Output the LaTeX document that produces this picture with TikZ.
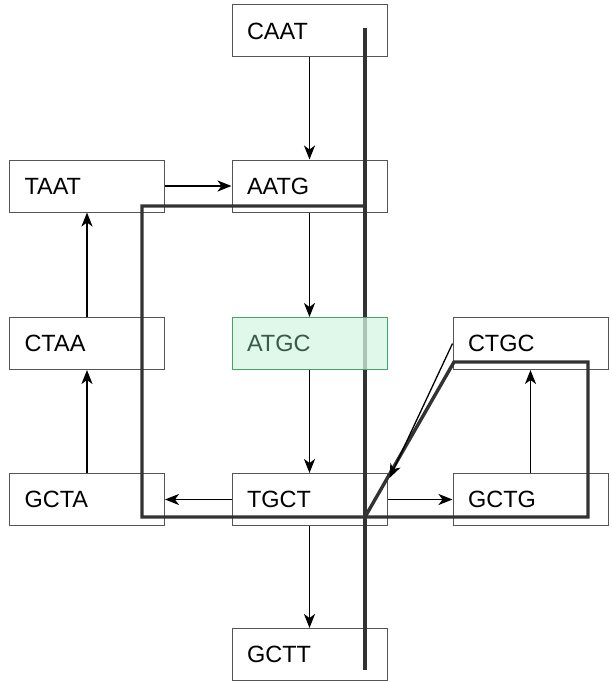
\documentclass[tikz,border=0pt]{standalone}
\usepackage{fontspec}
\setmainfont{Liberation Sans}
\usetikzlibrary{arrows.meta}
\definecolor{boxline}{HTML}{555555}
\definecolor{thick}{HTML}{333333}
\definecolor{mint}{HTML}{D5F5E3}
\definecolor{mintline}{HTML}{3FA66A}
\definecolor{minttext}{HTML}{3A5A48}
\begin{document}
\begin{tikzpicture}[x=1pt,y=-1pt,
  seq/.style={draw=boxline, line width=1pt, fill=white, minimum height=52pt,
    text width=125pt, inner xsep=15pt, inner ysep=0pt, align=left,
    font=\fontsize{23.5}{26}\selectfont},
  hl/.style={seq, draw=mintline, fill=mint, fill opacity=0.75, text opacity=1, text=minttext},
  arr/.style={line width=1.8pt, -{Stealth[length=14pt,width=11pt,inset=4pt]}},
  heavy/.style={draw=thick, line width=3.4pt}]
\useasboundingbox (0,0) rectangle (611,682);
\node[seq] (caat) at (309.5,31) {CAAT};
\node[seq] (taat) at (87,186) {TAAT};
\node[seq] (aatg) at (309.5,186) {AATG};
\node[seq] (ctaa) at (87,343.5) {CTAA};
\node[seq] (ctgc) at (530.5,343.5) {CTGC};
\node[seq] (gcta) at (87,499.5) {GCTA};
\node[seq] (tgct) at (309.5,499.5) {TGCT};
\node[seq] (gctg) at (530.5,499.5) {GCTG};
\node[seq] (gctt) at (309.5,654.5) {GCTT};
% heavy overlay lines
\coordinate (v1) at (365,28);
\coordinate (v2) at (365,670);
\coordinate (p1) at (365,206);
\coordinate (p2) at (142,206);
\coordinate (p3) at (142,517);
\coordinate (p4) at (588,517);
\coordinate (p5) at (588,362);
\coordinate (p6) at (454,362);
\coordinate (p7) at (365,517);
\draw[heavy] (v1) -- (v2);
\draw[heavy, line join=miter] (p1) -- (p2) -- (p3) -- (p4) -- (p5) -- (p6) -- (p7);
\node[hl] (atgc) at (309.5,343.5) {ATGC};
% connectors
\draw[arr] (caat) -- (aatg);
\draw[arr] (taat) -- (aatg);
\draw[arr] (aatg) -- (atgc);
\draw[arr] (ctaa) -- (taat);
\draw[arr] (gcta) -- (ctaa);
\draw[arr] (atgc) -- (tgct);
\draw[arr] (tgct) -- (gcta);
\draw[arr] (tgct) -- (gctg);
\draw[arr] (gctg) -- (ctgc);
\draw[arr] (tgct) -- (gctt);
\draw[arr, line width=1.3pt] (ctgc.west) -- ([shift={(2pt,-5pt)}]tgct.north east);
\end{tikzpicture}
\end{document}
